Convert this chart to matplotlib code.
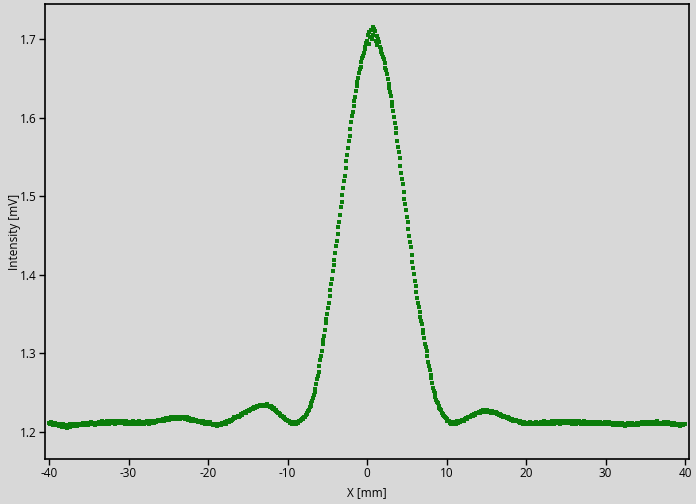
import numpy as np
import matplotlib
matplotlib.use("Agg")
import matplotlib.pyplot as plt

# sample positions (mm), one every 0.1 mm
x_start = -40.0
x_step = 0.1

# measured intensity in thousandths of a mV, one row per millimetre
intensity_milli = [
    # -40 .. -31
    1211, 1209, 1210, 1212, 1210, 1208, 1210, 1211, 1209, 1210,
    1208, 1210, 1209, 1207, 1209, 1208, 1206, 1208, 1209, 1207,
    1206, 1208, 1207, 1205, 1208, 1207, 1209, 1206, 1207, 1208,
    1209, 1207, 1208, 1210, 1208, 1207, 1209, 1210, 1208, 1209,
    1208, 1210, 1209, 1211, 1208, 1210, 1209, 1211, 1210, 1208,
    1211, 1209, 1210, 1212, 1210, 1209, 1211, 1210, 1208, 1210,
    1209, 1211, 1210, 1212, 1210, 1209, 1211, 1213, 1210, 1211,
    1212, 1210, 1211, 1213, 1211, 1210, 1212, 1211, 1213, 1212,
    1211, 1213, 1212, 1210, 1212, 1214, 1211, 1212, 1213, 1211,
    1213, 1211, 1212, 1214, 1211, 1210, 1212, 1213, 1211, 1212,
    # -30 .. -21
    1210, 1212, 1211, 1209, 1212, 1211, 1213, 1210, 1211, 1212,
    1212, 1210, 1211, 1213, 1211, 1209, 1211, 1212, 1210, 1211,
    1210, 1212, 1211, 1213, 1211, 1212, 1210, 1212, 1213, 1211,
    1212, 1213, 1211, 1213, 1214, 1212, 1213, 1215, 1213, 1214,
    1213, 1215, 1214, 1216, 1215, 1214, 1216, 1217, 1215, 1216,
    1217, 1215, 1216, 1218, 1216, 1217, 1219, 1216, 1217, 1218,
    1216, 1218, 1217, 1219, 1217, 1216, 1218, 1217, 1219, 1217,
    1218, 1216, 1217, 1218, 1216, 1215, 1217, 1216, 1214, 1216,
    1215, 1216, 1214, 1215, 1213, 1215, 1214, 1212, 1214, 1213,
    1214, 1212, 1213, 1211, 1213, 1212, 1210, 1212, 1211, 1212,
    # -20 .. -11
    1211, 1210, 1212, 1209, 1210, 1209, 1208, 1210, 1208, 1209,
    1208, 1207, 1209, 1208, 1210, 1209, 1208, 1210, 1211, 1210,
    1211, 1212, 1210, 1212, 1213, 1213, 1214, 1212, 1215, 1214,
    1215, 1216, 1216, 1218, 1217, 1218, 1219, 1218, 1220, 1219,
    1220, 1221, 1222, 1221, 1223, 1223, 1224, 1225, 1224, 1226,
    1226, 1227, 1226, 1228, 1229, 1229, 1230, 1229, 1231, 1230,
    1231, 1232, 1231, 1233, 1232, 1234, 1233, 1232, 1234, 1233,
    1233, 1234, 1232, 1233, 1235, 1233, 1232, 1233, 1231, 1232,
    1231, 1230, 1229, 1230, 1228, 1227, 1226, 1225, 1224, 1223,
    1222, 1221, 1220, 1220, 1218, 1218, 1217, 1216, 1215, 1215,
    # -10 .. -1
    1214, 1213, 1213, 1211, 1212, 1211, 1210, 1212, 1210, 1211,
    1211, 1210, 1212, 1211, 1213, 1213, 1214, 1215, 1216, 1216,
    1217, 1218, 1219, 1221, 1222, 1224, 1226, 1228, 1231, 1233,
    1236, 1239, 1243, 1246, 1250, 1254, 1260, 1267, 1271, 1276,
    1283, 1291, 1296, 1303, 1311, 1317, 1322, 1330, 1338, 1343,
    1350, 1358, 1364, 1373, 1381, 1388, 1395, 1405, 1412, 1419,
    1428, 1437, 1443, 1452, 1461, 1467, 1476, 1486, 1492, 1502,
    1510, 1520, 1526, 1536, 1545, 1552, 1561, 1570, 1577, 1586,
    1594, 1602, 1607, 1615, 1622, 1627, 1634, 1641, 1645, 1651,
    1657, 1662, 1665, 1671, 1676, 1679, 1683, 1688, 1690, 1695,
    # 0 .. 9
    1698, 1705, 1694, 1709, 1703, 1712, 1700, 1716, 1706, 1713,
    1710, 1698, 1704, 1693, 1700, 1697, 1690, 1688, 1684, 1681,
    1678, 1675, 1670, 1664, 1661, 1656, 1650, 1643, 1638, 1633,
    1628, 1620, 1615, 1609, 1601, 1593, 1587, 1580, 1571, 1563,
    1556, 1549, 1539, 1530, 1522, 1515, 1506, 1497, 1490, 1483,
    1474, 1467, 1458, 1449, 1442, 1435, 1425, 1416, 1409, 1401,
    1392, 1386, 1378, 1370, 1364, 1359, 1352, 1346, 1341, 1337,
    1330, 1325, 1319, 1312, 1308, 1303, 1296, 1289, 1284, 1279,
    1272, 1268, 1262, 1256, 1252, 1249, 1244, 1240, 1238, 1236,
    1233, 1230, 1229, 1227, 1224, 1222, 1221, 1220, 1218, 1217,
    # 10 .. 19
    1216, 1214, 1213, 1214, 1211, 1212, 1210, 1212, 1211, 1210,
    1211, 1212, 1210, 1213, 1211, 1212, 1214, 1212, 1213, 1215,
    1214, 1215, 1214, 1216, 1217, 1217, 1216, 1218, 1219, 1218,
    1219, 1220, 1221, 1220, 1222, 1222, 1221, 1223, 1224, 1223,
    1224, 1225, 1224, 1226, 1225, 1225, 1227, 1225, 1226, 1227,
    1226, 1227, 1225, 1226, 1226, 1225, 1224, 1226, 1225, 1224,
    1224, 1223, 1225, 1222, 1223, 1222, 1221, 1222, 1220, 1221,
    1220, 1219, 1220, 1218, 1219, 1218, 1217, 1218, 1216, 1217,
    1216, 1215, 1216, 1214, 1215, 1214, 1213, 1215, 1213, 1214,
    1213, 1212, 1213, 1211, 1212, 1211, 1210, 1212, 1210, 1211,
    # 20 .. 29
    1210, 1211, 1209, 1211, 1210, 1212, 1210, 1209, 1211, 1210,
    1211, 1209, 1210, 1212, 1210, 1211, 1209, 1211, 1210, 1212,
    1210, 1211, 1213, 1210, 1211, 1209, 1211, 1212, 1210, 1211,
    1212, 1210, 1211, 1213, 1211, 1210, 1212, 1211, 1213, 1211,
    1211, 1213, 1212, 1210, 1212, 1213, 1211, 1212, 1214, 1212,
    1213, 1211, 1212, 1214, 1212, 1211, 1213, 1212, 1210, 1212,
    1211, 1213, 1212, 1210, 1212, 1211, 1213, 1211, 1212, 1210,
    1212, 1210, 1211, 1213, 1211, 1210, 1212, 1211, 1209, 1211,
    1210, 1212, 1211, 1209, 1211, 1212, 1210, 1211, 1212, 1210,
    1211, 1209, 1210, 1212, 1210, 1211, 1209, 1211, 1210, 1212,
    # 30 .. 39
    1210, 1211, 1209, 1210, 1212, 1210, 1209, 1211, 1210, 1208,
    1210, 1209, 1211, 1208, 1210, 1209, 1211, 1210, 1208, 1210,
    1209, 1211, 1208, 1210, 1209, 1207, 1210, 1209, 1211, 1209,
    1208, 1210, 1209, 1211, 1208, 1210, 1209, 1210, 1208, 1211,
    1210, 1208, 1210, 1211, 1209, 1210, 1212, 1210, 1209, 1211,
    1210, 1212, 1209, 1211, 1210, 1212, 1211, 1209, 1211, 1210,
    1212, 1210, 1211, 1209, 1211, 1213, 1210, 1211, 1209, 1211,
    1210, 1211, 1209, 1212, 1210, 1211, 1209, 1210, 1212, 1210,
    1209, 1211, 1210, 1208, 1210, 1209, 1211, 1209, 1208, 1210,
    1209, 1208, 1210, 1209, 1207, 1209, 1210, 1208, 1209, 1210,
    # 40
    1209,
]

x_ticks = [-40, -30, -20, -10, 0, 10, 20, 30, 40]
y_ticks = [1.2, 1.3, 1.4, 1.5, 1.6, 1.7]

intensity = np.array(intensity_milli) / 1000.0
x = x_start + x_step * np.arange(len(intensity))

plt.rcParams['font.family'] = ['Open Sans', 'DejaVu Sans']

bg = '#d8d8d8'
fig = plt.figure(figsize=(6.96, 5.04), dpi=100, facecolor=bg)
ax = fig.add_axes([0.0647, 0.0893, 0.9253, 0.9027])
ax.set_facecolor(bg)

ax.plot(x, intensity, linestyle='none', marker='s', markersize=2.4,
        markeredgewidth=0, color='#0b7d0b')

ax.set_xlim(-40.5, 40.5)
ax.set_ylim(1.165, 1.745)
ax.set_xticks(x_ticks)
ax.set_yticks(y_ticks)
ax.set_xticklabels([str(t) for t in x_ticks])
ax.set_yticklabels(['%.1f' % t for t in y_ticks])
ax.tick_params(direction='out', length=4, width=1, labelsize=8.5,
               colors='black', pad=2)
for s in ax.spines.values():
    s.set_linewidth(1.2)
    s.set_color('black')

ax.set_xlabel('X [mm]', fontsize=8.5)
ax.set_ylabel('Intensity [mV]', fontsize=8.5)
ax.xaxis.set_label_coords(0.5, -0.059)
ax.yaxis.set_label_coords(-0.037, 0.5)

fig.savefig('out.png', dpi=100, facecolor=bg)
